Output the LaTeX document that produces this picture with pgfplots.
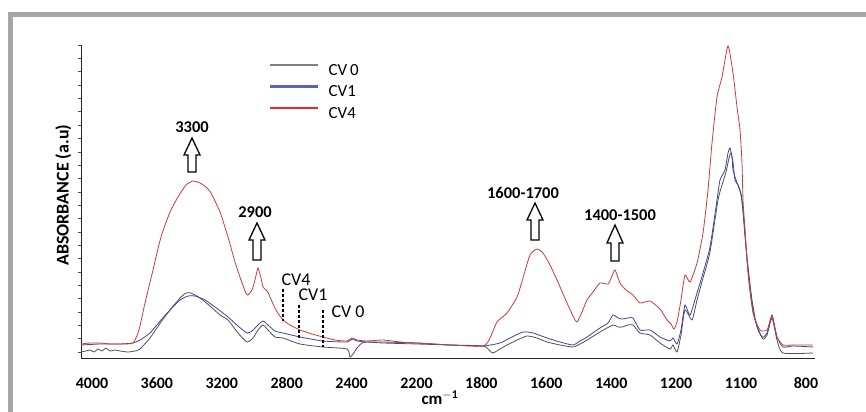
\documentclass[border=0pt]{standalone}
\usepackage{pgfplots}
\pgfplotsset{compat=1.18}
\usepackage{fontspec}
\setmainfont{Carlito}
\definecolor{cvzero}{HTML}{505050}
\definecolor{cvone}{HTML}{3C46A0}
\definecolor{cvfour}{HTML}{C83C3C}
\definecolor{lgzero}{HTML}{808080}
\definecolor{lgone}{HTML}{5A64B4}
\definecolor{lgfour}{HTML}{E6282D}
\definecolor{frame}{HTML}{A6A6A6}
\newcommand{\uparr}[4]{% center, tip, headbase, bottom
  \draw[black, line width=1.3bp, fill=white, line join=miter]
    (axis cs:#1-4,#4) -- (axis cs:#1-4,#3) -- (axis cs:#1-8,#3) -- (axis cs:#1,#2)
    -- (axis cs:#1+8,#3) -- (axis cs:#1+4,#3) -- (axis cs:#1+4,#4) -- cycle;}
\begin{document}
\begin{tikzpicture}
\useasboundingbox (0,0) rectangle (866bp,412bp);
\fill[white] (0,0) rectangle (866bp,412bp);
\draw[frame, line width=5bp] (10bp,0) -- (10bp,397bp) -- (866bp,397bp);
\begin{axis}[
  at={(81bp,54bp)}, anchor=south west,
  scale only axis, width=734bp, height=313bp,
  xmin=81, xmax=815, ymin=0, ymax=313,
  axis x line*=bottom, axis y line*=left,
  axis line style={-, draw=black!85, line width=0.6bp},
  xtick={92,156.9,221.8,286.7,351.6,416.5,481.4,546.3,611.2,676.1,741,806},
  xticklabels={4000,3600,3200,2800,2400,2200,1800,1600,1400,1200,1100,800},
  x tick style={draw=none},
  xticklabel style={font=\fontsize{16}{18}\selectfont\bfseries, anchor=center, yshift=-22bp},
  ytick={6,19.348,...,313.5},
  yticklabels={},
  y tick style={draw=black!70, line width=0.5bp},
  tick align=outside, major tick length=3bp,
  xlabel={cm$^{\mathbf{-1}}$},
  xlabel style={font=\fontsize{17}{19}\selectfont\bfseries, at={(axis description cs:0.489,0)}, anchor=center, yshift=-40bp},
  ylabel={ABSORBANCE (a.u)},
  ylabel style={font=\fontsize{18}{20}\selectfont\bfseries, at={(axis description cs:-0.0085,0.52)}, anchor=south},
  legend image code/.code={\draw[#1] (0bp,5.5bp) -- (48bp,5.5bp);},
  legend style={at={(axis cs:269,295)}, anchor=north west, draw=none, fill=none,
    inner sep=0pt, row sep=7bp, font=\fontsize{17}{19}\selectfont,
    nodes={text height=12bp, text depth=2.5bp, inner sep=0pt},
    /tikz/every odd column/.style={column sep=9bp}},
  legend cell align=left,
  clip=false,
]
\addlegendimage{lgzero, line width=2.5bp}
\addlegendentry{CV\,0}
\addlegendimage{lgone, line width=2.5bp}
\addlegendentry{CV1}
\addlegendimage{lgfour, line width=2.5bp}
\addlegendentry{CV4}

% CV0
\addplot[cvzero, line width=0.8bp, smooth, tension=0.35, forget plot] coordinates {
(81,6) (86,7) (90,8) (94,6) (98,9) (102,7) (106,10) (110,7) (115,8) (120,7) (128,6) (135,7) (140,9) (150,20) (161,36) (170,48) (180,60) (186,65) (191,65) (200,60) (210,52) (220,43) (228,38) (238,25) (247,16) (253,20) (258,28) (263,33) (268,28) (275,21) (283,20) (300,14) (323,11) (347,9) (350,1) (353,4) (357,10) (362,15) (367,16) (383,15) (417,14) (450,13) (483,12) (490,7) (493,5) (500,9) (507,13) (517,18) (527,22) (537,20) (547,16) (560,13) (573,11) (580,14) (587,18) (600,26) (613,33) (618,31) (622,31) (628,33) (633,33) (640,25) (650,23) (660,15) (670,9) (673,13) (677,6) (681,23) (685,48) (692,38) (697,58) (703,80) (710,106) (718,158) (722,173) (726,186) (729,200) (731,205) (733,196) (735,178) (738,173) (741,163) (744,138) (747,101) (752,58) (757,31) (763,19) (767,23) (772,40) (777,18) (783,5) (813,5)
};
% CV1
\addplot[cvone, line width=0.8bp, smooth, tension=0.35, forget plot] coordinates {
(81,13) (100,14) (120,14) (133,15) (140,18) (150,25) (161,38) (170,48) (180,58) (188,62) (195,62) (205,58) (215,51) (228,41) (238,32) (247,25) (252,27) (258,33) (263,37) (268,33) (275,27) (283,25) (300,21) (323,17) (347,16) (352,19) (357,17) (367,16) (383,16) (417,15) (450,13) (483,12) (500,15) (510,20) (523,26) (533,25) (547,20) (560,16) (573,13) (580,17) (587,21) (600,30) (608,35) (613,43) (618,40) (622,39) (628,40) (633,40) (640,28) (650,28) (660,21) (670,17) (673,20) (677,14) (681,28) (685,53) (690,43) (697,65) (703,85) (710,111) (717,158) (720,178) (725,188) (728,205) (730,210) (732,201) (733,188) (737,175) (740,168) (742,158) (745,121) (750,68) (755,38) (762,21) (767,25) (772,43) (777,21) (783,11) (793,12) (813,11)
};
% CV4
\addplot[cvfour, line width=0.8bp, smooth, tension=0.35, forget plot] coordinates {
(81,14) (90,15) (100,15) (110,14) (120,14) (133,15) (139,28) (145,55) (153,88) (161,121) (170,146) (178,161) (186,173) (193,177) (200,175) (206,171) (211,165) (220,146) (228,121) (235,96) (241,78) (247,63) (252,68) (255,78) (258,90) (261,80) (263,71) (266,68) (268,66) (270,61) (276,48) (283,38) (290,33) (300,28) (312,24) (323,21) (335,18) (347,17) (352,20) (357,18) (367,17) (383,18) (400,16) (417,15) (450,13) (483,12) (490,20) (497,36) (507,45) (517,61) (523,80) (530,103) (537,109) (543,105) (550,93) (557,78) (567,55) (573,42) (577,36) (582,46) (587,58) (593,66) (600,75) (608,74) (612,82) (615,88) (620,75) (626,68) (633,63) (640,55) (650,57) (660,49) (667,38) (671,34) (674,29) (677,36) (681,58) (685,83) (690,76) (697,95) (703,125) (708,168) (712,215) (717,261) (722,281) (728,312) (733,285) (737,251) (740,228) (742,195) (743,158) (745,128) (748,85) (753,45) (760,28) (767,28) (772,41) (777,21) (783,13) (793,13) (813,13)
};

% annotations
\uparr{192}{220}{203}{186}
\uparr{257}{135}{118}{98}
\uparr{535}{155}{138}{118}
\uparr{615}{133}{115}{97}
\node[font=\fontsize{16.5}{18}\selectfont\bfseries] at (axis cs:192,231) {3300};
\node[font=\fontsize{16.5}{18}\selectfont\bfseries] at (axis cs:255,146) {2900};
\node[font=\fontsize{16.5}{18}\selectfont\bfseries] at (axis cs:523,165) {1600-1700};
\node[font=\fontsize{16.5}{18}\selectfont\bfseries] at (axis cs:620,143) {1400-1500};
\draw[black, line width=1.6bp, dash pattern=on 3bp off 2bp] (axis cs:283,69) -- (axis cs:283,37);
\draw[black, line width=1.6bp, dash pattern=on 3bp off 2bp] (axis cs:299,53) -- (axis cs:299,18);
\draw[black, line width=1.6bp, dash pattern=on 3bp off 2bp] (axis cs:323,48) -- (axis cs:323,11);
\node[font=\fontsize{18}{20}\selectfont] at (axis cs:296,78) {CV4};
\node[font=\fontsize{18}{20}\selectfont] at (axis cs:313,63) {CV1};
\node[font=\fontsize{18}{20}\selectfont] at (axis cs:348,46) {CV 0};
\end{axis}
\end{tikzpicture}
\end{document}
